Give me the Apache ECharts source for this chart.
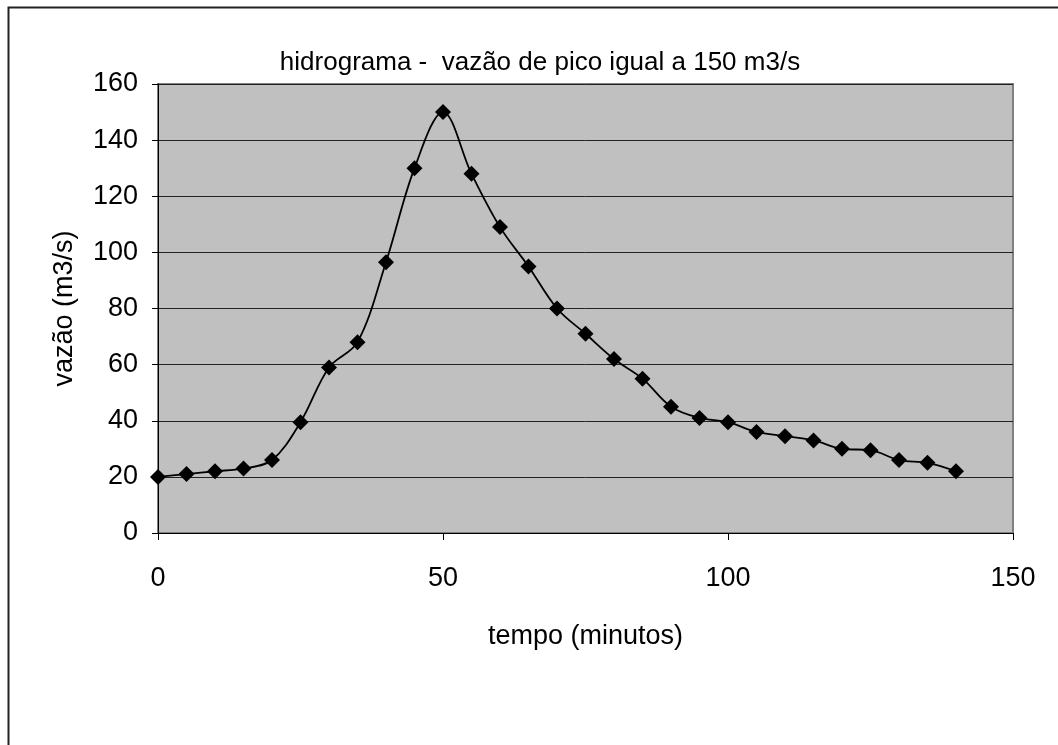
<!DOCTYPE html>
<html>
<head>
<meta charset="utf-8">
<script src="https://cdn.jsdelivr.net/npm/echarts@6/dist/echarts.min.js"></script>
<style>
html,body{margin:0;padding:0;background:#fff;}
#chart{width:1058px;height:745px;}
</style>
</head>
<body>
<div id="chart"></div>
<script>
var tempos = [0,5,10,15,20,25,30,35,40,45,50,55,60,65,70,75,80,85,90,95,100,105,110,115,120,125,130,135,140];
var vazoes = [20,21,22,23,26,39.5,59,68,96.5,130,150,128,109,95,80,71,62,55,45,41,39.5,36,34.5,33,30,29.5,26,25,22];
var xTicks = [0,50,100,150];
var yTicks = [0,20,40,60,80,100,120,140,160];
var titulo = 'hidrograma -  vazão de pico igual a 150 m3/s';
var nomeX = 'tempo (minutos)';
var nomeY = 'vazão (m3/s)';

var pts = tempos.map(function(t,i){return [t, vazoes[i]];});
var chart = echarts.init(document.getElementById('chart'), null, {renderer:'canvas'});
var font = 'Liberation Sans, Arial, sans-serif';
chart.setOption({
  animation:false,
  backgroundColor:'#ffffff',
  title:{
    text:titulo, left:535, top:45, textAlign:'center',
    textStyle:{fontFamily:font, fontSize:26, fontWeight:'normal', color:'#000'}
  },
  grid:{left:158, right:45, top:84, bottom:212, show:true, backgroundColor:'#C0C0C0', borderColor:'#808080', borderWidth:2},
  xAxis:{
    type:'value', min:xTicks[0], max:xTicks[xTicks.length-1], interval:50,
    name:nomeX, nameLocation:'middle', nameGap:90,
    nameTextStyle:{fontFamily:font, fontSize:27, color:'#000'},
    axisLine:{show:true, lineStyle:{color:'#000', width:1}},
    axisTick:{show:true, length:7, lineStyle:{color:'#000'}},
    axisLabel:{margin:32, fontFamily:font, fontSize:27, color:'#000'},
    splitLine:{show:false}
  },
  yAxis:{
    type:'value', min:yTicks[0], max:yTicks[yTicks.length-1], interval:20,
    name:nomeY, nameLocation:'middle', nameGap:80,
    nameTextStyle:{fontFamily:font, fontSize:27, color:'#000'},
    axisLine:{show:true, lineStyle:{color:'#000', width:1}},
    axisTick:{show:true, length:6, lineStyle:{color:'#000'}},
    axisLabel:{margin:20, fontFamily:font, fontSize:27, color:'#000'},
    splitLine:{show:true, lineStyle:{color:'#222', width:1}}
  },
  series:[{
    type:'line', data:pts, smooth:0.35,
    symbol:'diamond', symbolSize:16,
    itemStyle:{color:'#000'},
    lineStyle:{color:'#000', width:1.8}
  }],
  graphic:[{
    type:'polyline', silent:true,
    shape:{points:[[8.5,745],[8.5,7.5],[1058,7.5]]},
    style:{stroke:'#222', lineWidth:2, fill:null}
  }]
});
</script>
</body>
</html>
